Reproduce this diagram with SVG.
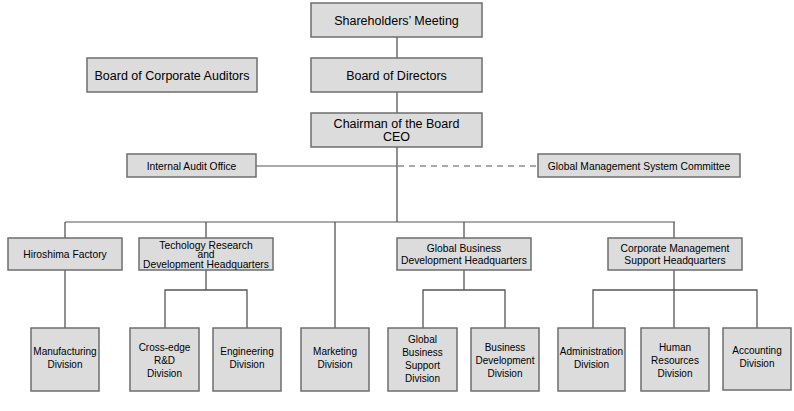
<svg xmlns="http://www.w3.org/2000/svg" width="794" height="411" viewBox="0 0 794 411">
<style>
.box{fill:#dcdcdc;stroke:#6e6e6e;stroke-width:1.5}
text{font-family:"Liberation Sans",Arial,sans-serif;fill:#000;text-anchor:middle}
.big{font-size:12.5px}
.sm{font-size:10px}
.md{font-size:10.3px}
.ln{stroke:#555;stroke-width:1.3;fill:none}
.lt{stroke:#aaa;stroke-width:2;fill:none}
.dash{stroke:#aaa;stroke-width:2;stroke-dasharray:6,5;fill:none}
</style>
<rect width="794" height="411" fill="#fff"/>
<g id="connectors">
<line class="ln" x1="397" y1="37" x2="397" y2="58"/>
<line class="ln" x1="397" y1="92" x2="397" y2="113"/>
<line class="lt" x1="256" y1="166" x2="397" y2="166"/>
<line class="dash" x1="398" y1="166" x2="538" y2="166"/>
<line class="lt" x1="65" y1="222" x2="675" y2="222"/>
<line class="ln" x1="397" y1="147" x2="397" y2="222"/>
<line class="ln" x1="65" y1="222" x2="65" y2="238"/>
<line class="ln" x1="206" y1="222" x2="206" y2="238"/>
<line class="ln" x1="335" y1="222" x2="335" y2="328"/>
<line class="ln" x1="464" y1="222" x2="464" y2="238"/>
<line class="ln" x1="674" y1="222" x2="674" y2="238"/>
<line class="ln" x1="65" y1="270" x2="65" y2="328"/>
<path class="ln" d="M206 270V290M165 328V290H247V328"/>
<path class="ln" d="M464 270V290M423 328V290H505V328"/>
<path class="ln" d="M674 270V328M593 328V290H757V328"/>
</g>
<g id="shareholders"><rect class="box" x="311" y="3" width="171" height="34"/><text class="big" x="396.5" y="24.5">Shareholders’ Meeting</text></g>
<g id="board-directors"><rect class="box" x="311" y="58" width="171" height="34"/><text class="big" x="396.5" y="79.5">Board of Directors</text></g>
<g id="board-auditors"><rect class="box" x="87" y="58" width="170" height="34"/><text class="big" x="172" y="79.5">Board of Corporate Auditors</text></g>
<g id="chairman"><rect class="box" x="311" y="113" width="171" height="34"/><text class="big" x="396.5" y="128">Chairman of the Board</text><text class="big" x="396.5" y="141">CEO</text></g>
<g id="internal-audit"><rect class="box" x="127" y="154" width="129" height="23"/><text class="md" x="191.5" y="169.5">Internal Audit Office</text></g>
<g id="gms-committee"><rect class="box" x="538" y="154" width="202" height="23"/><text class="md" x="639" y="169.5">Global Management System Committee</text></g>
<g id="hiroshima"><rect class="box" x="8" y="238" width="114" height="32"/><text class="md" x="65" y="257.5">Hiroshima Factory</text></g>
<g id="tech-rd"><rect class="box" x="139" y="238" width="134" height="32"/><text class="md" x="206" y="248.5">Techology Research</text><text class="md" x="206" y="258">and</text><text class="md" x="206" y="267.5">Development Headquarters</text></g>
<g id="global-bd"><rect class="box" x="397" y="238" width="134" height="32"/><text class="md" x="464" y="252">Global Business</text><text class="md" x="464" y="264">Development Headquarters</text></g>
<g id="corp-mgmt"><rect class="box" x="608" y="238" width="134" height="32"/><text class="md" x="675" y="252">Corporate Management</text><text class="md" x="675" y="264">Support Headquarters</text></g>
<g id="manufacturing"><rect class="box" x="31" y="328" width="68" height="63"/><text class="sm" x="65" y="354.5">Manufacturing</text><text class="sm" x="65" y="367.5">Division</text></g>
<g id="cross-edge"><rect class="box" x="130" y="328" width="69" height="63"/><text class="sm" x="164.5" y="350.5">Cross-edge</text><text class="sm" x="164.5" y="363.5">R&amp;D</text><text class="sm" x="164.5" y="376.5">Division</text></g>
<g id="engineering"><rect class="box" x="213" y="328" width="68" height="63"/><text class="sm" x="247" y="354.5">Engineering</text><text class="sm" x="247" y="367.5">Division</text></g>
<g id="marketing"><rect class="box" x="301" y="328" width="68" height="63"/><text class="sm" x="335" y="354.5">Marketing</text><text class="sm" x="335" y="367.5">Division</text></g>
<g id="gb-support"><rect class="box" x="388" y="328" width="69" height="63"/><text class="sm" x="422.5" y="342.5">Global</text><text class="sm" x="422.5" y="355.5">Business</text><text class="sm" x="422.5" y="368.5">Support</text><text class="sm" x="422.5" y="381.5">Division</text></g>
<g id="bd-division"><rect class="box" x="471" y="328" width="68" height="63"/><text class="sm" x="505" y="350.5">Business</text><text class="sm" x="505" y="363.5">Development</text><text class="sm" x="505" y="376.5">Division</text></g>
<g id="administration"><rect class="box" x="558" y="328" width="67" height="63"/><text class="sm" x="591.5" y="354.5">Administration</text><text class="sm" x="591.5" y="367.5">Division</text></g>
<g id="human-resources"><rect class="box" x="641" y="328" width="68" height="63"/><text class="sm" x="675" y="350.5">Human</text><text class="sm" x="675" y="363.5">Resources</text><text class="sm" x="675" y="376.5">Division</text></g>
<g id="accounting"><rect class="box" x="723" y="328" width="68" height="62"/><text class="sm" x="757" y="353.5">Accounting</text><text class="sm" x="757" y="366.5">Division</text></g>
</svg>
